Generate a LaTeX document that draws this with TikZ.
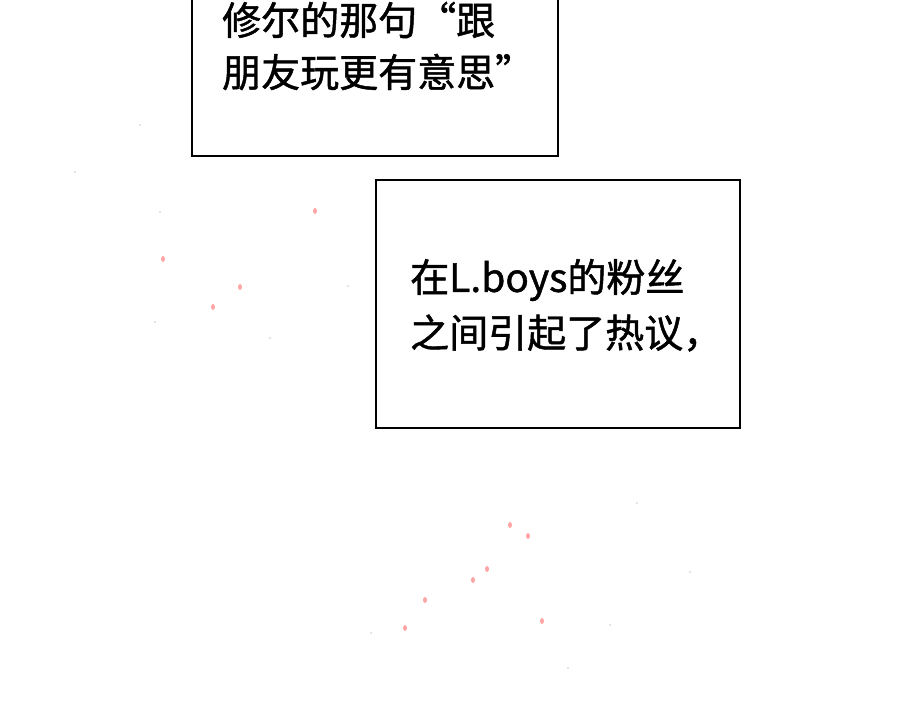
\documentclass[tikz,border=0pt]{standalone}
\usepackage{fontspec}
\newfontfamily\cjk[FakeBold=1.2]{Noto Sans CJK SC}
\begin{document}
\begin{tikzpicture}[x=1pt,y=-1pt]
\tikzset{panel/.style={draw=black,line width=2pt,fill=white},
 txt/.style={anchor=west,inner sep=0pt,font=\cjk\fontsize{39}{44}\selectfont},
 petal/.style={fill=red!35!white,draw=none}}
\useasboundingbox (0,0) rectangle (900,703);
\fill[white] (0,0) rectangle (900,703);
\foreach \x/\y in {240/287,213/307,315/211,163/259,425/600,487/569,542/621,405/628,473/580,510/525,528/536}
  \fill[petal] (\x,\y) ellipse (2 and 3);
\foreach \x/\y in {140/125,75/172,160/212,155/322,270/338,348/286,637/503,690/572,371/633,568/668,610/625}
  \fill[gray!40] (\x,\y) circle (0.8);
\draw[panel] (192,-5) rectangle (558,156);
\node[txt] (l1) at (222,20) {修尔的那句“跟};
\node[txt] (l2) at (222,72) {朋友玩更有意思”};
\draw[panel] (376,180) rectangle (740,428);
\node[txt] (l3) at (410,280) {在L.boys的粉丝};
\node[txt] (l4) at (410,333) {之间引起了热议，};
\end{tikzpicture}
\end{document}
